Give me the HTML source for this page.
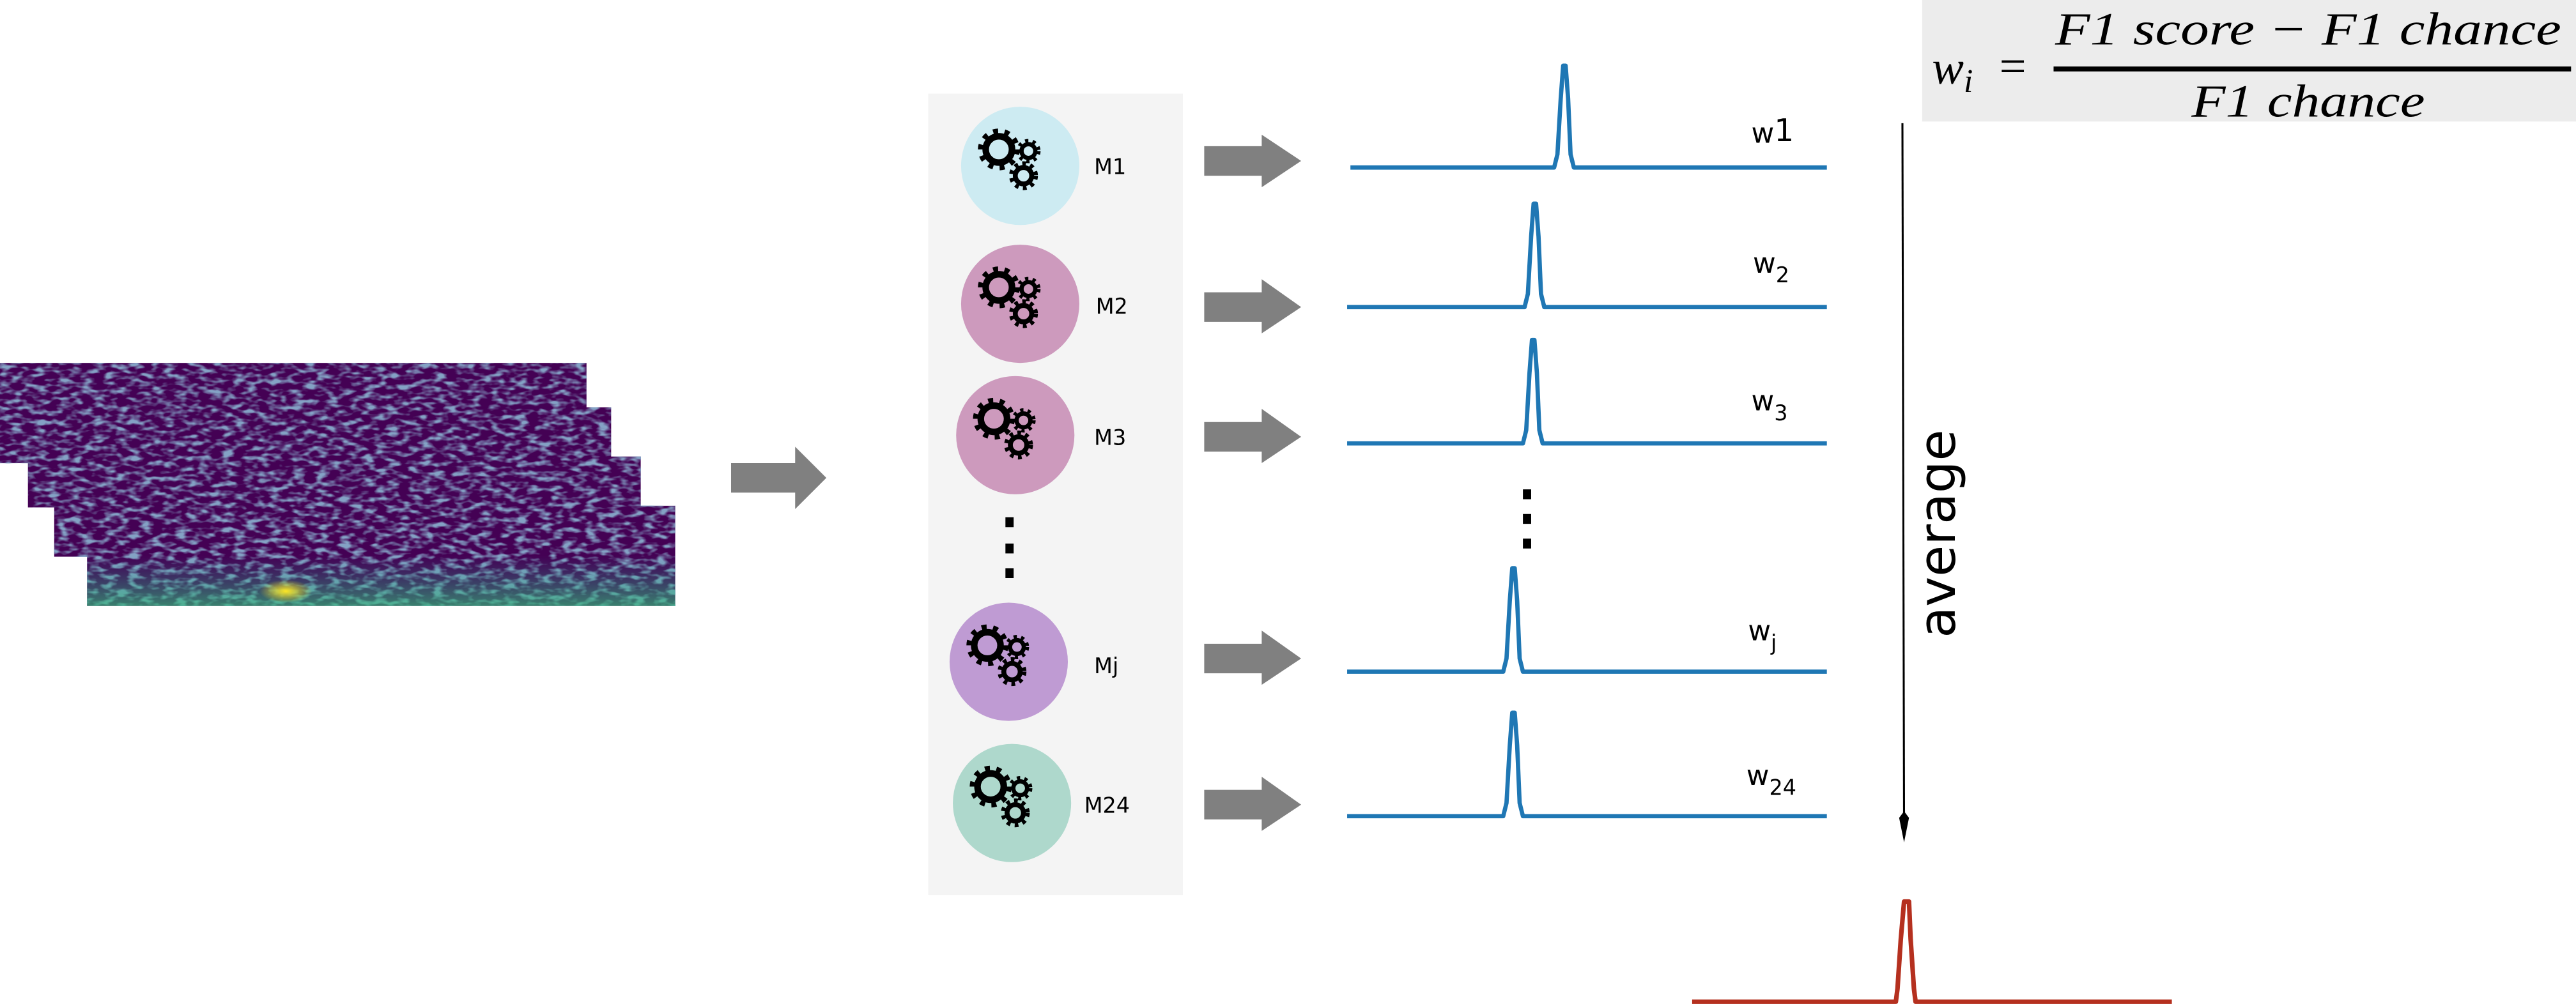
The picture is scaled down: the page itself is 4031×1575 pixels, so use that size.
<!DOCTYPE html>
<html><head><meta charset="utf-8"><style>html,body{margin:0;padding:0;background:#fff}svg{display:block}</style></head>
<body>
<svg width="4031" height="1575" viewBox="0 0 1568 612.6" preserveAspectRatio="none" xmlns="http://www.w3.org/2000/svg">
<defs>
<filter id="noise" x="0" y="0" width="100%" height="100%">
<feTurbulence type="fractalNoise" baseFrequency="0.14 0.32" numOctaves="2" seed="3"/>
<feColorMatrix type="matrix" values="0 0 0 0 0.23  0 0 0 0 0.36  0 0 0 0 0.56  0 0 0 3.4 -1.5"/>
</filter>
<linearGradient id="glow" x1="0" y1="0" x2="0" y2="1">
<stop offset="0.5" stop-color="#21918c" stop-opacity="0"/>
<stop offset="1" stop-color="#35b779" stop-opacity="0.7"/>
</linearGradient>
<radialGradient id="hot" cx="0.5" cy="0.5" r="0.5">
<stop offset="0" stop-color="#fde725"/><stop offset="1" stop-color="#fde725" stop-opacity="0"/>
</radialGradient>
<g id="gears">
<circle cx="-11" cy="-7" r="8" fill="none" stroke="#000" stroke-width="4"/>
<circle cx="-11" cy="-7" r="11" fill="none" stroke="#000" stroke-width="3.5" stroke-dasharray="3 3.9"/>
<circle cx="7" cy="-6" r="4.2" fill="none" stroke="#000" stroke-width="2.6"/>
<circle cx="7" cy="-6" r="6.3" fill="none" stroke="#000" stroke-width="2.2" stroke-dasharray="2 2.6"/>
<circle cx="4" cy="9" r="5" fill="none" stroke="#000" stroke-width="3"/>
<circle cx="4" cy="9" r="7.6" fill="none" stroke="#000" stroke-width="2.4" stroke-dasharray="2.3 2.7"/>
</g>
</defs>

<g>
<rect x="0" y="221" width="357" height="61" fill="#440154"/><rect x="0" y="221" width="357" height="61" filter="url(#noise)"/>
<rect x="17" y="248" width="355" height="61" fill="#440154"/><rect x="17" y="248" width="355" height="61" filter="url(#noise)"/>
<rect x="33" y="278" width="357" height="61" fill="#440154"/><rect x="33" y="278" width="357" height="61" filter="url(#noise)"/>
<rect x="53" y="308" width="358" height="61" fill="#440154"/><rect x="53" y="308" width="358" height="61" filter="url(#noise)"/>
<rect x="53" y="308" width="358" height="61" fill="url(#glow)"/>
<ellipse cx="174" cy="360" rx="16" ry="7" fill="url(#hot)"/>
</g>

<polygon points="445,282 484,282 484,272 503,291 484,310 484,300 445,300" fill="#808080"/>

<rect x="565" y="57" width="155" height="488" fill="#f4f4f4"/>
<circle cx="621" cy="101" r="36" fill="#cdebf2"/>
<circle cx="621" cy="185" r="36" fill="#cd9abd"/>
<circle cx="618" cy="265" r="36" fill="#cd9abd"/>
<circle cx="614" cy="403" r="36" fill="#bf9bd3"/>
<circle cx="616" cy="489" r="36" fill="#aed8cc"/>
<use href="#gears" x="619" y="98"/>
<use href="#gears" x="619" y="182"/>
<use href="#gears" x="616" y="262"/>
<use href="#gears" x="612" y="400"/>
<use href="#gears" x="614" y="486"/>
<g font-family="DejaVu Sans, sans-serif" font-size="13" fill="#000">
<text x="666" y="106">M1</text>
<text x="667" y="191">M2</text>
<text x="666" y="271">M3</text>
<text x="666" y="410">Mj</text>
<text x="660" y="495">M24</text>
</g>
<g fill="#000">
<rect x="612" y="315" width="5" height="6"/><rect x="612" y="331" width="5" height="6"/><rect x="612" y="346" width="5" height="6"/>
<rect x="927" y="298" width="5" height="6"/><rect x="927" y="313" width="5" height="6"/><rect x="927" y="328" width="5" height="6"/>
</g>

<g fill="#808080">
<polygon points="733,89 768,89 768,82 792,98 768,114 768,107 733,107"/>
<polygon points="733,178 768,178 768,170 792,187 768,203 768,196 733,196"/>
<polygon points="733,257 768,257 768,249 792,266 768,282 768,275 733,275"/>
<polygon points="733,392 768,392 768,384 792,401 768,417 768,410 733,410"/>
<polygon points="733,481 768,481 768,473 792,490 768,506 768,499 733,499"/>
</g>

<g fill="none" stroke="#1f77b4" stroke-width="2.6" stroke-linejoin="round">
<path d="M822,102 L946,102 L948,94 L950,60 L951.5,40 L953,40 L954.5,60 L956,94 L958,102 L1112,102"/>
<path d="M820,187 L928,187 L930,179 L932,144 L933.5,124 L935,124 L936.5,144 L938,179 L940,187 L1112,187"/>
<path d="M820,270 L927,270 L929,262 L931,227 L932.5,207 L934,207 L935.5,227 L937,262 L939,270 L1112,270"/>
<path d="M820,409 L915,409 L917,401 L919,366 L920.5,346 L922,346 L923.5,366 L925,401 L927,409 L1112,409"/>
<path d="M820,497 L915,497 L917,489 L919,454 L920.5,434 L922,434 L923.5,454 L925,489 L927,497 L1112,497"/>
</g>
<g font-family="DejaVu Sans, sans-serif" font-size="17" fill="#000">
<text x="1066" y="87">w<tspan font-size="19" dy="-1">1</tspan></text>
<text x="1067" y="166">w<tspan font-size="13" dy="6">2</tspan></text>
<text x="1066" y="250">w<tspan font-size="13" dy="6">3</tspan></text>
<text x="1064" y="390">w<tspan font-size="13" dy="6">j</tspan></text>
<text x="1063" y="478">w<tspan font-size="13" dy="6">24</tspan></text>
</g>

<line x1="1158" y1="75" x2="1159" y2="505" stroke="#000" stroke-width="1.2"/>
<polygon points="1156,498 1159,494 1162,498 1159,513" fill="#000"/>
<text transform="translate(1190,325) rotate(-90)" text-anchor="middle" font-family="DejaVu Sans, sans-serif" font-size="31" fill="#000">average</text>

<path d="M1030,610 L1154,610 L1155,602 L1157,572 L1159,549 L1162,549 L1163,572 L1165,602 L1166,610 L1322,610" fill="none" stroke="#b5301f" stroke-width="2.8" stroke-linejoin="round"/>

<rect x="1170" y="0" width="398" height="74" fill="#ececec"/>
<g font-family="Liberation Serif, serif" font-style="italic" fill="#000">
<text x="1176" y="51" font-size="29">w<tspan font-size="20" dy="5">i</tspan></text>
<text x="1217" y="50" font-size="29" font-style="normal">=</text>
<text x="1251" y="27" font-size="28" textLength="308" lengthAdjust="spacingAndGlyphs">F1 score  − F1 chance</text>
<text x="1334" y="71" font-size="28" textLength="142" lengthAdjust="spacingAndGlyphs">F1 chance</text>
</g>
<rect x="1250" y="40.5" width="315" height="3" fill="#000"/>
</svg>
</body></html>
